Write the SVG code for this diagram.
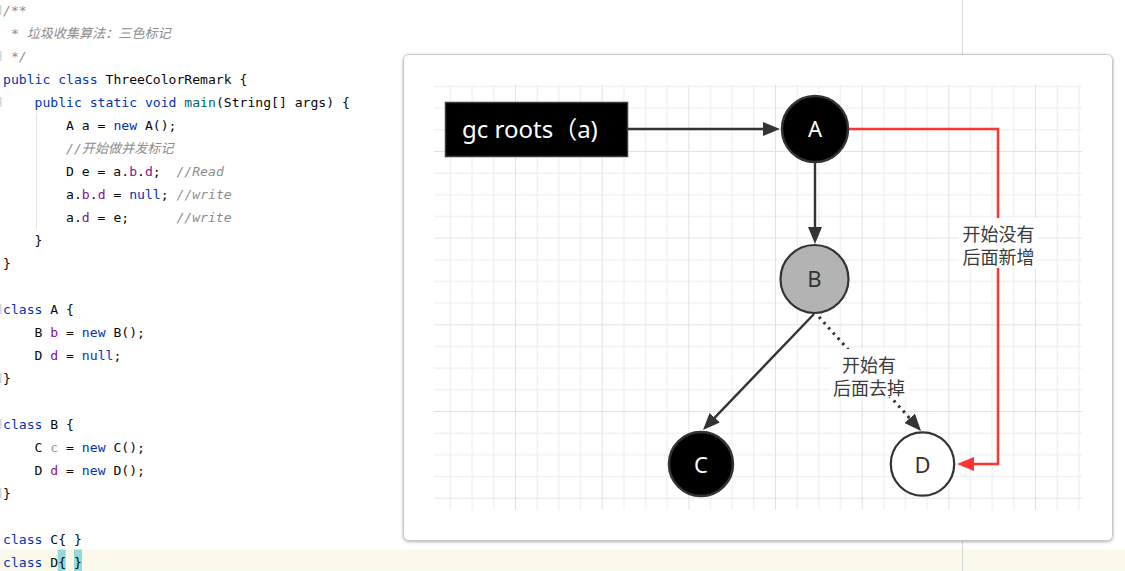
<svg xmlns="http://www.w3.org/2000/svg" width="1125" height="571" viewBox="0 0 1125 571">
<defs>
<style>
.code{font-family:"DejaVu Sans Mono","Noto Sans CJK SC",monospace;font-size:13.1px;fill:#080808;white-space:pre}
.kw{fill:#0033b3}
.fn{fill:#00627a}
.fd{fill:#871094}
.un{fill:#9a9a9a}
.cm{fill:#8c8c8c;font-style:italic}
.edge{stroke:#333;stroke-width:2.4;fill:none}
.red{stroke:#ff3333;stroke-width:2.5;fill:none}
.dot{stroke:#333;stroke-width:3;fill:none;stroke-dasharray:2.5 4.5}
.lbl{font-family:"Noto Sans CJK SC",sans-serif;font-size:18px;fill:#3a3a3a;text-anchor:middle}
.nt{font-family:"Noto Sans","Noto Sans CJK SC",sans-serif;font-size:22px;text-anchor:middle}
.gut{fill:#d6d6d6}
</style>
<pattern id="grid" patternUnits="userSpaceOnUse" x="428.33" y="64.33" width="86.67" height="86.67">
<path d="M22.17 0V86.67M43.83 0V86.67M65.5 0V86.67M0 22.17H86.67M0 43.83H86.67M0 65.5H86.67" stroke="#ebebeb" stroke-width="1"/>
<path d="M0.5 0V86.67M0 0.5H86.67" stroke="#e2e2e2" stroke-width="1"/>
</pattern>
<marker id="ah" markerUnits="userSpaceOnUse" markerWidth="18" markerHeight="14" refX="9" refY="7" orient="auto">
<path d="M0,0 L17,7 L0,14 z" fill="#333"/>
</marker>
<marker id="ahr" markerUnits="userSpaceOnUse" markerWidth="18" markerHeight="14" refX="9" refY="7" orient="auto">
<path d="M0,0 L17,7 L0,14 z" fill="#ff3333"/>
</marker>
<filter id="sh" x="-5%" y="-5%" width="110%" height="110%">
<feDropShadow dx="0" dy="1" stdDeviation="1.5" flood-color="#000" flood-opacity="0.3"/>
</filter>
</defs>

<rect x="0" y="0" width="1125" height="571" fill="#ffffff"/>
<rect x="0" y="549.5" width="1125" height="22" fill="#fbf9ec"/>
<rect x="57.7" y="549.5" width="8" height="22" fill="#93d9d9"/>
<rect x="74" y="549.5" width="8" height="22" fill="#93d9d9"/>
<line x1="962.5" y1="0" x2="962.5" y2="571" stroke="#d8d8d8" stroke-width="1"/>
<line x1="36.5" y1="113" x2="36.5" y2="229" stroke="#e6e6e6" stroke-width="1"/>
<rect class="gut" x="0" y="5" width="1.5" height="10"/>
<rect class="gut" x="0" y="51" width="1.5" height="10"/>
<rect class="gut" x="0" y="97" width="1.5" height="10"/>
<rect class="gut" x="0" y="304" width="1.5" height="10"/>
<rect class="gut" x="0" y="373" width="1.5" height="10"/>
<rect class="gut" x="0" y="419" width="1.5" height="10"/>
<rect class="gut" x="0" y="488" width="1.5" height="10"/>

<g id="code" xml:space="preserve">
<text class="code" x="3" y="14.5"><tspan class="cm">/**</tspan></text>
<text class="code" x="3" y="37.5"><tspan class="cm"> * 垃圾收集算法：三色标记</tspan></text>
<text class="code" x="3" y="60.5"><tspan class="cm"> */</tspan></text>
<text class="code" x="3" y="83.5"><tspan class="kw">public class</tspan> ThreeColorRemark {</text>
<text class="code" x="3" y="106.5">    <tspan class="kw">public static void</tspan> <tspan class="fn">main</tspan>(String[] args) {</text>
<text class="code" x="3" y="129.5">        A a = <tspan class="kw">new</tspan> A();</text>
<text class="code" x="3" y="152.5">        <tspan class="cm">//开始做并发标记</tspan></text>
<text class="code" x="3" y="175.5">        D e = a.<tspan class="fd">b</tspan>.<tspan class="fd">d</tspan>;  <tspan class="cm">//Read</tspan></text>
<text class="code" x="3" y="198.5">        a.<tspan class="fd">b</tspan>.<tspan class="fd">d</tspan> = <tspan class="kw">null</tspan>; <tspan class="cm">//write</tspan></text>
<text class="code" x="3" y="221.5">        a.<tspan class="fd">d</tspan> = e;      <tspan class="cm">//write</tspan></text>
<text class="code" x="3" y="244.5">    }</text>
<text class="code" x="3" y="267.5">}</text>
<text class="code" x="3" y="313.5"><tspan class="kw">class</tspan> A {</text>
<text class="code" x="3" y="336.5">    B <tspan class="fd">b</tspan> = <tspan class="kw">new</tspan> B();</text>
<text class="code" x="3" y="359.5">    D <tspan class="fd">d</tspan> = <tspan class="kw">null</tspan>;</text>
<text class="code" x="3" y="382.5">}</text>
<text class="code" x="3" y="428.5"><tspan class="kw">class</tspan> B {</text>
<text class="code" x="3" y="451.5">    C <tspan class="un">c</tspan> = <tspan class="kw">new</tspan> C();</text>
<text class="code" x="3" y="474.5">    D <tspan class="fd">d</tspan> = <tspan class="kw">new</tspan> D();</text>
<text class="code" x="3" y="497.5">}</text>
<text class="code" x="3" y="543.5"><tspan class="kw">class</tspan> C{ }</text>
<text class="code" x="3" y="566.5"><tspan class="kw">class</tspan> D{ }</text>
</g>

<rect x="403.5" y="54.5" width="709" height="486" rx="5" fill="#ffffff" stroke="#c4c9ce" stroke-width="1" filter="url(#sh)"/>
<rect x="434" y="85" width="648" height="425" fill="url(#grid)"/>

<g id="connectors">
<path class="edge" d="M628 129 H772" marker-end="url(#ah)"/>
<path class="edge" d="M815 163 V236" marker-end="url(#ah)"/>
<path class="edge" d="M814 314 L708.5 424.2" marker-end="url(#ah)"/>
<path class="dot" d="M819 317 L915.7 425" marker-end="url(#ah)"/>
<path class="red" d="M849 129 H998 V464 H965" marker-end="url(#ahr)"/>
<rect x="959" y="218" width="79" height="50" fill="#ffffff"/>
<text class="lbl" x="998.5" y="240.5">开始没有<tspan x="998.5" dy="23">后面新增</tspan></text>
<rect x="830" y="349" width="79" height="48" fill="#ffffff"/>
<text class="lbl" x="869" y="371.5">开始有<tspan x="869" dy="23">后面去掉</tspan></text>
</g>

<g id="node-gcroots">
<rect x="445.5" y="102.5" width="182" height="54" fill="#000000" stroke="#3a3a3a" stroke-width="1.5"/>
<text x="462" y="138" font-family="'Noto Sans','Noto Sans CJK SC',sans-serif" font-size="24" fill="#ffffff">gc roots（a)</text>
</g>
<g id="node-A">
<circle cx="815" cy="129" r="33" fill="#000000" stroke="#333" stroke-width="2.5"/>
<text class="nt" x="815" y="137" fill="#ffffff">A</text>
</g>
<g id="node-B">
<circle cx="814.5" cy="279" r="34" fill="#b3b3b3" stroke="#333" stroke-width="2.2"/>
<text class="nt" x="814.5" y="287" fill="#333333">B</text>
</g>
<g id="node-C">
<circle cx="701" cy="464" r="32" fill="#000000" stroke="#333" stroke-width="2.5"/>
<text class="nt" x="701" y="472.5" fill="#ffffff">C</text>
</g>
<g id="node-D">
<circle cx="922.5" cy="464" r="31.7" fill="#ffffff" stroke="#333" stroke-width="2.2"/>
<text class="nt" x="922.5" y="472.5" fill="#333333">D</text>
</g>
</svg>
